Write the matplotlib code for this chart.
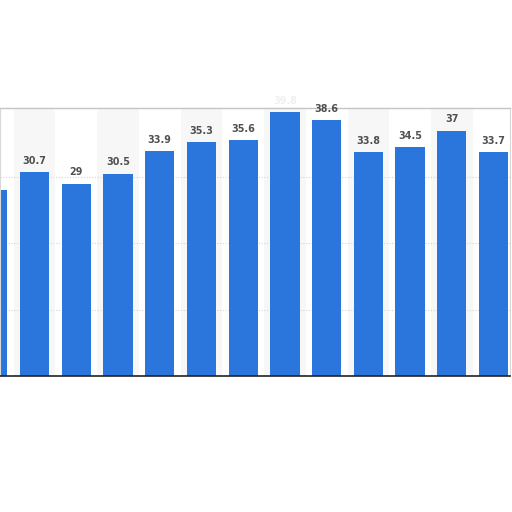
import numpy as np
import matplotlib
matplotlib.use('Agg')
import matplotlib.pyplot as plt

# valores (a primeira e a oitava barra estao cortadas)
valores = [28.0, 30.7, 29.0, 30.5, 33.9, 35.3, 35.6, 39.8, 38.6, 33.8, 34.5, 37.0, 33.7]
rotulos = ['28', '30.7', '29', '30.5', '33.9', '35.3', '35.6', '39.8', '38.6', '33.8', '34.5', '37', '33.7']
grade = [10, 20, 30]

azul = '#2a76dc'
cinza_texto = '#505050'

fig = plt.figure(figsize=(5.12, 5.12), dpi=100)
ax = fig.add_axes([0.0, 1 - 376 / 512, 510 / 512, (376 - 108) / 512])

x = np.arange(len(valores))
ymax = 40.4

# faixas alternadas de fundo
for i in x[1::2]:
    ax.axvspan(i - 0.5, i + 0.5, color='#f7f7f7', zorder=0, lw=0)

for g in grade:
    ax.axhline(g, color='#d6d6d6', linestyle=(0, (1, 1.5)), linewidth=0.8, zorder=1)

ax.bar(x, valores, width=0.7, color=azul, zorder=2)

for xi, v, r in zip(x, valores, rotulos):
    if xi == 0:
        continue  # rotulo fora do recorte
    # rotulo acima da moldura aparece quase apagado na imagem
    cor = cinza_texto if v < ymax - 1.5 else '#f0f0f0'
    ax.annotate(r, (xi, v), xytext=(0, 4.5), textcoords='offset points',
                ha='center', va='bottom', fontsize=6.9, fontweight='bold',
                color=cor, annotation_clip=False, zorder=5)

ax.set_xlim(0.1725, 12.394)
ax.set_ylim(0, ymax)
ax.set_xticks([])
ax.set_yticks([])

for lado in ['left', 'right']:
    ax.spines[lado].set_color('#d8d8d8')
    ax.spines[lado].set_linewidth(0.8)
ax.spines['top'].set_color('#c4c4c4')
ax.spines['top'].set_linewidth(1.0)
ax.spines['bottom'].set_color('#222222')
ax.spines['bottom'].set_linewidth(1.2)

plt.savefig('out.png', dpi=100)
plt.close()
